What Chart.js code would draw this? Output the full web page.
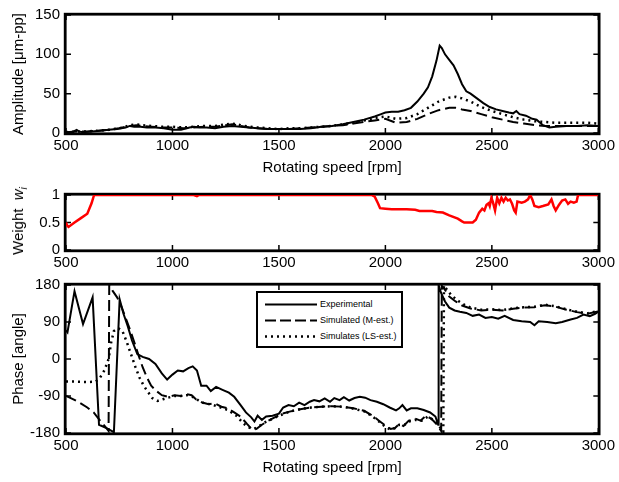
<!DOCTYPE html>
<html><head><meta charset="utf-8">
<script src="https://cdn.jsdelivr.net/npm/chart.js@4/dist/chart.umd.min.js"></script>
<style>
html,body{margin:0;padding:0;background:#fff;}
body{width:619px;height:482px;position:relative;overflow:hidden;font-family:'Liberation Sans',Arial,sans-serif;}
canvas{position:absolute;left:0;}
#c1{top:0;} #c2{top:180px;} #c3{top:270px;}
#wtitle{position:absolute;left:19px;top:221px;transform:translate(-50%,-50%) rotate(-90deg);white-space:nowrap;font-size:15px;color:#000;}
#wtitle sub{font-size:10px;}
#legend{position:absolute;left:256px;top:291px;width:143px;height:53px;border:2px solid #000;background:#fff;z-index:5;font-size:9px;color:#000;}
#legend .row{position:absolute;left:0;height:12px;}
#legend svg{position:absolute;left:7px;top:5px;}
#legend span{position:absolute;left:62px;top:0;line-height:12px;white-space:nowrap;}
</style></head>
<body>
<canvas id="c1" width="619" height="180"></canvas>
<canvas id="c2" width="619" height="98"></canvas>
<canvas id="c3" width="619" height="212"></canvas>
<div id="wtitle">Weight&nbsp; <i>w</i><sub><i>i</i></sub></div>
<div id="legend"></div>
<script>
// ---------- data ----------
const xTicks = [500, 1000, 1500, 2000, 2500, 3000];
const ampTicks = [0, 50, 100, 150];
const weightTicks = [0, 0.5, 1];
const phaseTicks = [-180, -90, 0, 90, 180];
const seriesNames = ['Experimental', 'Simulated (M-est.)', 'Simulates (LS-est.)'];

const ampExpRpm = [500,530,550,560,580,620,660,700,740,760,780,800,820,850,880,920,960,1000,1040,1080,1100,1130,1160,1200,1240,1280,1320,1360,1400,1450,1500,1550,1600,1650,1700,1750,1800,1850,1900,1950,1980,2000,2030,2060,2090,2120,2150,2180,2200,2220,2240,2255,2265,2280,2300,2320,2340,2360,2380,2400,2430,2460,2490,2520,2550,2580,2600,2615,2630,2660,2690,2710,2740,2770,2800,2850,2900,2950,3000];
const ampExp = [1,1,4,2,1,2,3,4,5,6,7,9,8,8,7,7,6,4,4,7,8,7,7,6,8,9,8,7,6,5,5,5,5,6,8,9,11,14,17,21,24,26,27,27,29,32,40,50,58,72,92,111,108,100,93,86,75,62,53,50,44,38,33,30,28,26,25,28,24,22,18,17,10,7,8,9,9,10,9];

const ampSimRpm = [500,550,600,650,700,750,780,800,830,860,900,950,1000,1050,1100,1150,1200,1250,1280,1320,1360,1400,1450,1500,1550,1600,1650,1700,1750,1800,1850,1900,1950,2000,2050,2100,2150,2200,2250,2300,2330,2360,2400,2450,2500,2550,2600,2650,2700,2750,2800,2850,2900,2950,3000];
const ampLS = [1,2,2,3,4,6,8,10,11,10,9,8,8,7,8,9,9,11,12,10,8,7,6,5,6,6,7,8,9,11,13,16,19,21,18,19,24,32,40,45,46,44,40,33,28,24,20,17,15,14,13,13,13,13,12];
const ampM = [1,2,2,3,4,6,8,9,10,9,8,7,7,6,7,8,8,10,11,9,7,6,5,5,5,6,7,8,9,10,12,14,16,18,13,14,18,24,29,32,32,30,28,24,20,17,14,12,10,9,9,9,9,9,9];

const wRpm = [500,505,512,540,570,600,620,632,1100,1115,1125,1935,1950,1965,1975,2000,2030,2100,2140,2160,2220,2240,2270,2300,2340,2360,2370,2410,2425,2440,2455,2465,2475,2485,2490,2498,2505,2515,2525,2535,2545,2555,2565,2575,2585,2595,2605,2612,2620,2640,2655,2670,2680,2690,2700,2720,2740,2765,2780,2790,2800,2815,2830,2845,2858,2870,2885,2898,2905,3000];
const weight = [0.5,0.45,0.42,0.5,0.58,0.66,0.85,1,1,0.98,1,1,0.97,0.85,0.76,0.75,0.74,0.74,0.73,0.71,0.71,0.69,0.68,0.63,0.57,0.52,0.5,0.5,0.55,0.68,0.75,0.72,0.82,0.85,0.8,0.95,0.87,0.72,0.95,0.85,0.95,0.88,0.95,0.9,0.92,0.84,0.72,0.68,0.88,0.86,0.88,0.92,1,0.92,0.8,0.78,0.8,0.83,0.92,0.8,0.72,0.82,0.9,0.92,0.84,0.88,0.86,0.88,1,1];

const phExpRpm = [500,507,540,580,625,655,690,725,752,770,790,810,835,860,890,920,950,975,1000,1025,1050,1075,1095,1115,1135,1160,1180,1205,1235,1265,1290,1320,1345,1370,1385,1400,1420,1440,1470,1500,1520,1545,1570,1595,1620,1645,1665,1690,1715,1740,1760,1785,1805,1830,1855,1880,1905,1930,1960,1990,2020,2050,2065,2080,2100,2120,2150,2180,2210,2235,2248,2250,2262,2280,2300,2325,2350,2380,2410,2440,2470,2500,2530,2560,2600,2640,2680,2700,2720,2760,2800,2830,2870,2900,2930,2960,2985,3000];
const phExp = [70,65,165,85,150,-160,-168,-178,145,110,80,45,12,5,0,-12,-35,-50,-38,-28,-30,-22,-18,-28,-65,-65,-78,-68,-75,-82,-92,-112,-130,-142,-152,-138,-148,-140,-138,-133,-118,-112,-115,-106,-112,-104,-100,-103,-96,-104,-95,-100,-93,-101,-95,-92,-94,-100,-104,-110,-118,-125,-120,-112,-125,-120,-120,-124,-130,-140,-160,180,160,140,125,118,115,112,105,108,100,102,98,105,95,92,90,82,92,90,87,90,96,100,108,104,110,115];

const phMRpm = [500,530,560,600,630,660,690,700,703,720,740,760,780,800,820,840,860,880,900,925,950,980,1010,1040,1070,1090,1110,1140,1170,1200,1230,1260,1290,1320,1350,1375,1395,1420,1450,1480,1510,1550,1600,1650,1700,1750,1800,1850,1900,1940,1970,2000,2025,2045,2065,2085,2110,2140,2165,2190,2215,2240,2262,2265,2280,2300,2330,2360,2400,2450,2500,2550,2600,2650,2700,2750,2800,2850,2900,2950,3000];
const phM = [-90,-97,-105,-118,-130,-150,-168,-175,180,165,150,128,100,72,42,10,-20,-45,-65,-78,-88,-92,-88,-90,-86,-88,-98,-106,-110,-108,-116,-120,-130,-140,-158,-172,-170,-160,-150,-142,-134,-128,-122,-118,-116,-115,-116,-120,-126,-138,-150,-162,-170,-168,-158,-163,-150,-145,-150,-138,-145,-158,-175,178,168,152,140,130,123,118,120,118,122,125,126,131,127,120,114,110,116];

const phLSRpm = [500,550,600,640,660,680,700,712,725,745,765,785,805,825,845,865,885,905,930,955,980,1010,1040,1070,1095,1120,1150,1180,1220,1260,1300,1330,1355,1380,1400,1430,1460,1500,1550,1600,1650,1700,1750,1800,1850,1900,1940,1970,2000,2025,2045,2065,2090,2110,2140,2170,2200,2230,2255,2272,2275,2290,2310,2340,2370,2400,2450,2500,2550,2600,2650,2700,2750,2800,2850,2900,2950,3000];
const phLS = [-55,-55,-56,-55,-45,-28,0,40,68,75,68,42,12,-18,-45,-65,-80,-95,-102,-98,-94,-90,-90,-88,-92,-100,-108,-110,-117,-124,-138,-155,-166,-170,-166,-155,-148,-138,-128,-122,-118,-116,-115,-116,-121,-127,-140,-152,-165,-172,-168,-160,-160,-152,-148,-150,-140,-150,-165,-177,179,168,155,142,132,125,120,121,119,123,126,127,132,128,121,115,111,117];

// ---------- helpers ----------
const FONT = "'Liberation Sans', Arial, sans-serif";
Chart.defaults.font.family = FONT;
Chart.defaults.color = '#000';
const pts = (xs, ys) => xs.map((x, i) => ({x: x, y: ys[i]}));
const STYLES = [
  {borderColor: '#000', borderWidth: 2, borderDash: []},
  {borderColor: '#000', borderWidth: 2, borderDash: [11, 5]},
  {borderColor: '#000', borderWidth: 2.5, borderDash: [2, 4]}
];

const framePlugin = {
  id: 'frame',
  beforeDatasetsDraw(chart) {
    const {ctx, chartArea: a, scales} = chart;
    const xs = scales.x, ys = scales.y, L = 5;
    ctx.save();
    ctx.strokeStyle = '#000';
    ctx.lineWidth = 1.5;
    ctx.setLineDash([]);
    ctx.beginPath();
    xs.ticks.forEach(t => {
      const p = xs.getPixelForValue(t.value);
      ctx.moveTo(p, a.bottom); ctx.lineTo(p, a.bottom - L);
      ctx.moveTo(p, a.top); ctx.lineTo(p, a.top + L);
    });
    ys.ticks.forEach(t => {
      const p = ys.getPixelForValue(t.value);
      ctx.moveTo(a.left, p); ctx.lineTo(a.left + L, p);
      ctx.moveTo(a.right, p); ctx.lineTo(a.right - L, p);
    });
    ctx.stroke();
    ctx.lineWidth = 2.8;
    ctx.strokeRect(a.left - 0.8, a.top - 0.8, a.right - a.left + 1.6, a.bottom - a.top + 1.6);
    ctx.restore();
  }
};

function makeChart(id, datasets, cfg) {
  return new Chart(document.getElementById(id), {
    type: 'line',
    data: {datasets: datasets},
    options: {
      responsive: false, animation: false, devicePixelRatio: 1,
      layout: {padding: {left: 0, right: 19, top: cfg.top, bottom: 0}},
      elements: {point: {radius: 0}, line: {tension: 0}},
      plugins: {legend: {display: false}, tooltip: {enabled: false}},
      scales: {
        x: {
          type: 'linear', min: 500, max: 3000,
          grid: {display: false, drawTicks: false}, border: {display: false},
          afterBuildTicks: s => { s.ticks = xTicks.map(v => ({value: v})); },
          ticks: {padding: cfg.xpad, font: {size: 15}, color: '#000', maxRotation: 0, autoSkip: false, callback: v => String(v)},
          title: {display: !!cfg.xtitle, text: cfg.xtitle || '', font: {size: 15}, color: '#000', padding: {top: 0, bottom: cfg.xtb || 0}},
          afterFit: s => { s.height = cfg.xh; }
        },
        y: {
          type: 'linear', min: cfg.ymin, max: cfg.ymax,
          grid: {display: false, drawTicks: false}, border: {display: false},
          afterBuildTicks: s => { s.ticks = cfg.yticks.map(v => ({value: v})); },
          ticks: {padding: 6, font: {size: 15}, color: '#000', autoSkip: false, callback: v => String(v)},
          title: {display: !!cfg.ytitle, text: cfg.ytitle || '', font: {size: 15}, color: '#000', padding: {top: 10, bottom: 0}},
          afterFit: s => { s.width = 66; }
        }
      }
    },
    plugins: [framePlugin]
  });
}

// ---------- charts ----------
makeChart('c1', [
  Object.assign({label: seriesNames[0], data: pts(ampExpRpm, ampExp)}, STYLES[0]),
  Object.assign({label: seriesNames[1], data: pts(ampSimRpm, ampM)}, STYLES[1]),
  Object.assign({label: seriesNames[2], data: pts(ampSimRpm, ampLS)}, STYLES[2])
], {top: 13, xh: 47, xpad: 4, xtitle: 'Rotating speed [rpm]', xtb: 3, ymin: 0, ymax: 150, yticks: ampTicks, ytitle: 'Amplitude [\u03bcm-pp]'});

makeChart('c2', [
  {label: 'Weight', data: pts(wRpm, weight), borderColor: '#ff0000', borderWidth: 2.5}
], {top: 11, xh: 28, xpad: 4, ymin: 0, ymax: 1, yticks: weightTicks});

makeChart('c3', [
  Object.assign({label: seriesNames[0], data: pts(phExpRpm, phExp)}, STYLES[0]),
  Object.assign({label: seriesNames[1], data: pts(phMRpm, phM)}, STYLES[1]),
  Object.assign({label: seriesNames[2], data: pts(phLSRpm, phLS)}, STYLES[2])
], {top: 10, xh: 49, xpad: 4, xtitle: 'Rotating speed [rpm]', xtb: 5, ymin: -180, ymax: 180, yticks: phaseTicks, ytitle: 'Phase [angle]'});

// ---------- legend ----------
const leg = document.getElementById('legend');
const rowTops = [5, 21, 37];
const dashes = ['', '11 4', '2 4'];
const widths = [2, 2, 2.5];
seriesNames.forEach((name, i) => {
  const row = document.createElement('div');
  row.className = 'row';
  row.style.top = rowTops[i] + 'px';
  row.style.width = '141px';
  row.innerHTML = '<svg width="52" height="3"><line x1="0" y1="1.5" x2="52" y2="1.5" stroke="#000" stroke-width="' + widths[i] + '"' + (dashes[i] ? ' stroke-dasharray="' + dashes[i] + '"' : '') + '/></svg><span>' + name + '</span>';
  leg.appendChild(row);
});
</script>
</body></html>
